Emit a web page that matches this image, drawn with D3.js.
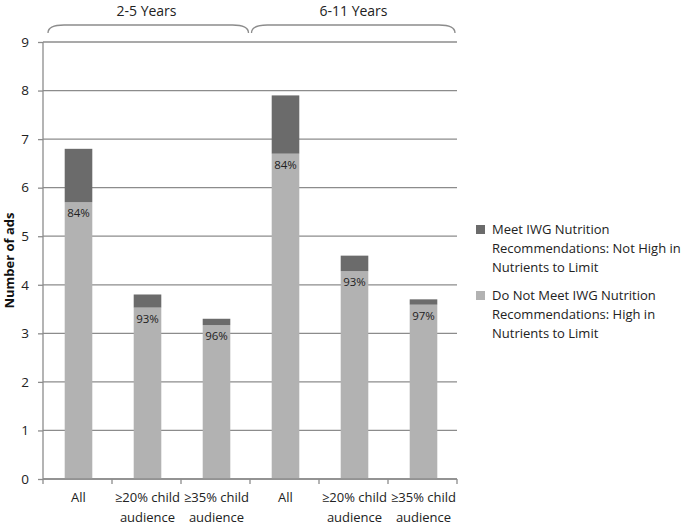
<!DOCTYPE html>
<html><head><meta charset="utf-8">
<script src="https://cdn.jsdelivr.net/npm/d3@7"></script>
<style>body{margin:0;background:#fff;}text{font-family:"Open Sans","Noto Sans",sans-serif;}</style>
</head><body>
<svg id="c" width="693" height="525"></svg>
<script>
const categories = ["All", "≥20% child audience", "≥35% child audience", "All", "≥20% child audience", "≥35% child audience"];
const catLines = [["All"], ["≥20% child", "audience"], ["≥35% child", "audience"], ["All"], ["≥20% child", "audience"], ["≥35% child", "audience"]];
const groups = ["2-5 Years", "6-11 Years"];
const notMeet = [5.7, 3.53, 3.17, 6.7, 4.28, 3.59];
const meet = [1.1, 0.27, 0.13, 1.2, 0.32, 0.11];
const pctLabels = ["84%", "93%", "96%", "84%", "93%", "97%"];
const yTicks = [0,1,2,3,4,5,6,7,8,9];
const seriesNames = ["Meet IWG Nutrition Recommendations: Not High in Nutrients to Limit", "Do Not Meet IWG Nutrition Recommendations: High in Nutrients to Limit"];
const legendLines = [["Meet IWG Nutrition", "Recommendations: Not High in", "Nutrients to Limit"], ["Do Not Meet IWG Nutrition", "Recommendations: High in", "Nutrients to Limit"]];
const colors = ["#6b6b6b", "#b2b2b2"];

const svg = d3.select("#c");
const L = 43, R = 457, T = 42, B = 479;
const x = d3.scaleBand().domain(d3.range(categories.length)).range([L, R]).paddingInner(0.6).paddingOuter(0.3);
const y = d3.scaleLinear().domain([0, 9]).range([B, T]);

// gridlines
svg.append("g").selectAll("line").data(yTicks).join("line")
  .attr("x1", L).attr("x2", R).attr("y1", d => y(d)).attr("y2", d => y(d))
  .attr("stroke", "#8c8c8c").attr("stroke-width", 1.3);

// bars
const bx = i => x(i) + 1;
svg.append("g").selectAll("rect").data(notMeet).join("rect")
  .attr("x", (d,i) => bx(i)).attr("width", x.bandwidth())
  .attr("y", d => y(d)).attr("height", d => y(0) - y(d)).attr("fill", colors[1]);
svg.append("g").selectAll("rect").data(meet).join("rect")
  .attr("x", (d,i) => bx(i)).attr("width", x.bandwidth())
  .attr("y", (d,i) => y(notMeet[i] + d)).attr("height", (d,i) => y(notMeet[i]) - y(notMeet[i] + d)).attr("fill", colors[0]);
svg.append("g").selectAll("text").data(pctLabels).join("text")
  .attr("x", (d,i) => bx(i) + x.bandwidth()/2).attr("y", (d,i) => y(notMeet[i]) + 15)
  .attr("text-anchor", "middle").attr("font-size", 11.5).attr("fill", "#222").text(d => d);

// y axis
const ya = svg.append("g").attr("transform", `translate(${L},0)`)
  .call(d3.axisLeft(y).tickValues(yTicks).tickSize(5).tickPadding(9));
ya.select(".domain").attr("stroke", "#8c8c8c").attr("stroke-width", 1.3).attr("d", `M-0,${T}V${B}`);
ya.selectAll(".tick line").attr("stroke", "#8c8c8c").attr("stroke-width", 1.3);
ya.selectAll(".tick text").attr("font-size", 13.5).attr("fill", "#222").style("font-family", "Open Sans");

// x axis
const xb = d3.scaleLinear().domain([0, categories.length]).range([L, R]);
svg.append("g").selectAll("line").data(d3.range(categories.length + 1)).join("line")
  .attr("x1", d => xb(d)).attr("x2", d => xb(d)).attr("y1", B).attr("y2", B + 5)
  .attr("stroke", "#8c8c8c").attr("stroke-width", 1.3);
svg.append("line").attr("x1", L).attr("x2", R).attr("y1", B).attr("y2", B).attr("stroke", "#8c8c8c").attr("stroke-width", 1.3);
const xl = svg.append("g").selectAll("text").data(catLines).join("text")
  .attr("x", (d,i) => bx(i) + x.bandwidth()/2).attr("y", 502)
  .attr("text-anchor", "middle").attr("font-size", 13).attr("fill", "#222");
xl.selectAll("tspan").data(d => d).join("tspan")
  .attr("x", function(){ return d3.select(this.parentNode).attr("x"); })
  .attr("dy", (d,j) => j === 0 ? 0 : 20).text(d => d);

// y label
svg.append("text").attr("transform", `translate(14,${(T+B)/2}) rotate(-90)`)
  .attr("text-anchor", "middle").attr("font-size", 13).attr("font-weight", "bold").attr("fill", "#111").text("Number of ads");

// brackets
const half = categories.length / 2;
groups.forEach((g, k) => {
  const x0 = xb(k*half) + (k === 0 ? 5 : 1.5), x1 = xb((k+1)*half) - (k === 0 ? 1.5 : 2);
  const yb = 33, yt = 25, r = 8;
  const p = d3.path();
  p.moveTo(x0, yb);
  p.quadraticCurveTo(x0, yt, x0 + r*2, yt);
  p.lineTo(x1 - r*2, yt);
  p.quadraticCurveTo(x1, yt, x1, yb);
  svg.append("path").attr("d", p.toString()).attr("fill", "none").attr("stroke", "#8c8c8c").attr("stroke-width", 1.3);
  svg.append("text").attr("x", (xb(k*half) + xb((k+1)*half))/2).attr("y", 16)
    .attr("text-anchor", "middle").attr("font-size", 14).attr("fill", "#222").text(g);
});

// legend
legendLines.forEach((lines, k) => {
  const y0 = 234 + k*66;
  svg.append("rect").attr("x", 476).attr("y", y0 - 9).attr("width", 9).attr("height", 9).attr("fill", colors[k]);
  svg.append("text").attr("x", 492).attr("y", y0).attr("font-size", 13).attr("fill", "#222")
    .selectAll("tspan").data(lines).join("tspan").attr("x", 492).attr("dy", (d,j) => j === 0 ? 0 : 19).text(d => d);
});
</script>
</body></html>
